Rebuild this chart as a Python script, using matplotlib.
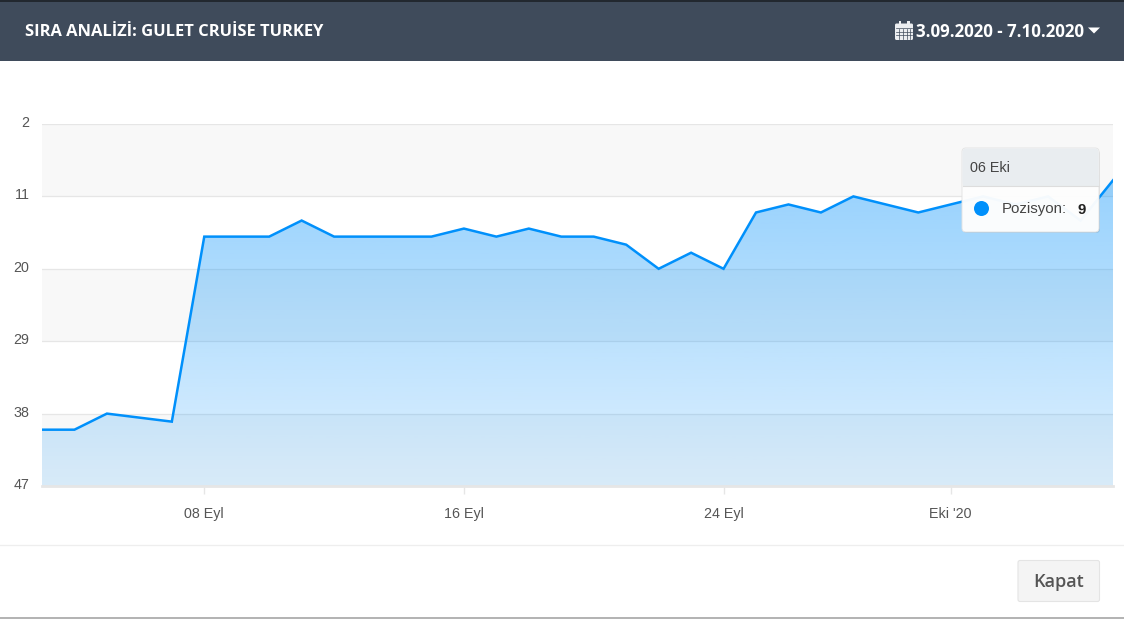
import numpy as np
import pandas as pd
import matplotlib
matplotlib.use("Agg")
import matplotlib.pyplot as plt
from matplotlib.patches import FancyBboxPatch, Rectangle, Polygon, Circle
from matplotlib.transforms import ScaledTranslation

# no reading for 6 Sep, the line just runs straight across it
dates = ["2020-09-03", "2020-09-04", "2020-09-05", "2020-09-07", "2020-09-08", "2020-09-09",
         "2020-09-10", "2020-09-11", "2020-09-12", "2020-09-13", "2020-09-14", "2020-09-15",
         "2020-09-16", "2020-09-17", "2020-09-18", "2020-09-19", "2020-09-20", "2020-09-21",
         "2020-09-22", "2020-09-23", "2020-09-24", "2020-09-25", "2020-09-26", "2020-09-27",
         "2020-09-28", "2020-09-29", "2020-09-30", "2020-10-01", "2020-10-02", "2020-10-03",
         "2020-10-04", "2020-10-05", "2020-10-06"]
position = [40, 40, 38, 39, 16, 16,
            16, 14, 16, 16, 16, 16,
            15, 16, 15, 16, 16, 17,
            20, 18, 20, 13, 12, 13,
            11, 12, 13, 12, 11, 12,
            11, 14, 9]
y_ticks = [2, 11, 20, 29, 38, 47]
x_tick_dates = ["2020-09-08", "2020-09-16", "2020-09-24", "2020-10-01"]
x_tick_labels = ["08 Eyl", "16 Eyl", "24 Eyl", "Eki '20"]

W, H = 1124, 619
BLUE = "#0090fb"
GRID = "#e6e6e6"

x = pd.to_datetime(dates)
days = (x - x[0]).days.to_numpy()
tick_days = (pd.to_datetime(x_tick_dates) - x[0]).days.to_numpy()

fig = plt.figure(figsize=(W / 100, H / 100), dpi=100, facecolor="white")

# chart area in pixels: x 42-1113, y 124-486
ax = fig.add_axes([42 / W, 1 - 486 / H, (1113 - 42) / W, (486 - 124) / H])
ax.set_xlim(days[0], days[-1])
ax.set_ylim(47, 2)
ax.set_facecolor("white")

for i in range(0, len(y_ticks) - 1, 2):
    ax.axhspan(y_ticks[i], y_ticks[i + 1], color="#f8f8f8", lw=0, zorder=0)
ax.set_yticks(y_ticks)
ax.set_xticks(tick_days)
ax.set_xticklabels(x_tick_labels)
ax.grid(axis="y", color=GRID, lw=0.9, zorder=1)
ax.tick_params(axis="y", length=0, pad=9, labelsize=10.3, labelcolor="#555555")
ax.tick_params(axis="x", length=6, width=1, color=GRID, pad=9, labelsize=10.3, labelcolor="#555555")
for label in ax.get_xticklabels() + ax.get_yticklabels():
    label.set_family("Liberation Sans")
# y labels sit a little above their grid lines
for label in ax.get_yticklabels():
    label.set_transform(label.get_transform() + ScaledTranslation(0, 2.5 / 100, fig.dpi_scale_trans))
for side in ["top", "left", "right"]:
    ax.spines[side].set_visible(False)
ax.spines["bottom"].set_color(GRID)
ax.spines["bottom"].set_linewidth(2)

# gradient fill under the line
area = ax.fill_between(days, position, 47, color="none", lw=0)
grad = np.zeros((256, 1, 4))
grad[:, 0, :3] = matplotlib.colors.to_rgb(BLUE)
grad[:, 0, 3] = np.linspace(0.46, 0.13, 256)
im = ax.imshow(grad, extent=(0, 1, 0, 1), transform=ax.transAxes, aspect="auto", zorder=2)
im.set_clip_path(area.get_paths()[0], ax.transData)
ax.set_xlim(days[0], days[-1])
ax.set_ylim(47, 2)
ax.plot(days, position, color=BLUE, lw=1.8, zorder=3, solid_joinstyle="miter")

# page chrome on top, in pixel coordinates
ui = fig.add_axes([0, 0, 1, 1], facecolor="none", zorder=5)
ui.set_xlim(0, W)
ui.set_ylim(H, 0)
ui.axis("off")

ui.add_patch(Rectangle((0, 0), W, 2, color="#22282f", lw=0))
ui.add_patch(Rectangle((0, 2), W, 59, color="#3f4b5b", lw=0))
ui.add_patch(Rectangle((0, 617), W, 2, color="#b4b4b4", lw=0))
ui.plot([0, W], [544.5, 544.5], color="#eeeeee", lw=0.9)

ui.text(25, 32, "SIRA ANALİZİ: GULET CRUİSE TURKEY", color="white", fontsize=11.85,
        fontweight="bold", family="Open Sans", va="center", ha="left")
ui.text(916, 32, "3.09.2020 - 7.10.2020", color="white", fontsize=12.2,
        fontweight="bold", family="Open Sans", va="center", ha="left")

# calendar icon
ui.add_patch(FancyBboxPatch((895, 23.5), 18, 16.5, boxstyle="round,pad=0,rounding_size=1.5", fc="#eceef1", ec="none"))
ui.add_patch(Rectangle((898.5, 21), 2.5, 5, color="#eceef1", lw=0))
ui.add_patch(Rectangle((907, 21), 2.5, 5, color="#eceef1", lw=0))
for gx in [899, 903, 907, 910]:
    ui.plot([gx, gx], [28.5, 38.5], color="#3f4b5b", lw=0.5)
for gy in [28, 31.5, 35]:
    ui.plot([896, 912], [gy, gy], color="#3f4b5b", lw=0.5)

ui.add_patch(Polygon([(1088, 27.5), (1100, 27.5), (1094, 33.5)], color="white", lw=0))

# tooltip
ui.add_patch(FancyBboxPatch((963, 150), 137, 83, boxstyle="round,pad=0,rounding_size=4",
                            fc="#000000", ec="none", alpha=0.10))
ui.add_patch(FancyBboxPatch((962, 148), 137, 84, boxstyle="round,pad=0,rounding_size=4",
                            fc="white", ec="#e3e3e3", lw=0.7, alpha=0.96))
ui.add_patch(FancyBboxPatch((962.5, 148.5), 136, 37, boxstyle="round,pad=0,rounding_size=3",
                            fc="#e9edf0", ec="none"))
ui.add_patch(Rectangle((962.5, 175), 136, 10.5, color="#e9edf0", lw=0))
ui.plot([962.5, 1098.5], [185.5, 185.5], color="#dddddd", lw=0.8)
ui.text(969.5, 167.5, "06 Eki", fontsize=10.4, family="Liberation Sans", color="#444444", va="center")
ui.add_patch(Circle((981.5, 208.5), 7.5, color=BLUE, lw=0))
ui.text(1002, 209.5, "Pozisyon:", fontsize=10.8, family="Liberation Sans", color="#444444", va="center")
ui.text(1078, 209.5, "9", fontsize=10.8, family="Liberation Sans", fontweight="bold", color="#222222", va="center")

# close button
ui.add_patch(FancyBboxPatch((1018, 560.5), 81.5, 41, boxstyle="round,pad=0,rounding_size=2",
                            fc="#f4f4f4", ec="#e4e4e4", lw=0.8))
ui.text(1059, 582, "Kapat", fontsize=13, family="Open Sans", fontweight="semibold",
        color="#555555", ha="center", va="center")

fig.savefig("out.png", dpi=100)
